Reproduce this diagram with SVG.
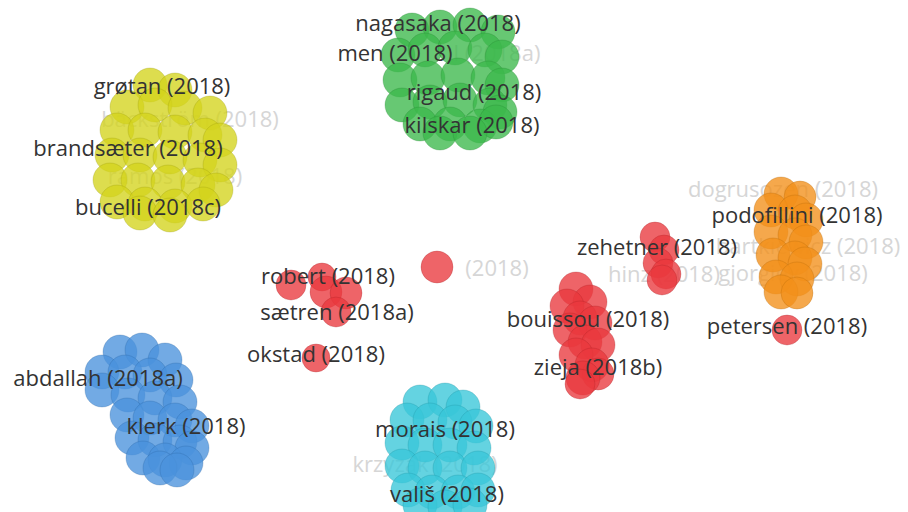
<svg xmlns="http://www.w3.org/2000/svg" width="908" height="512" viewBox="0 0 908 512">
<style>
text{font-family:"Open Sans","Noto Sans","DejaVu Sans",sans-serif;font-size:22px;text-anchor:middle}
.d{fill:#333}
.f{fill:#d6d6d6}
circle{fill-opacity:0.78;stroke-opacity:0.25;stroke-width:1}
.g circle{fill:#3cb84b;stroke:#1f7a2a}
.y circle{fill:#d4d41c;stroke:#8f8f08}
.b circle{fill:#4a92dc;stroke:#245a99}
.c circle{fill:#38c7d9;stroke:#178896}
.r circle{fill:#e9383e;stroke:#9e1a1e}
.o circle{fill:#f29019;stroke:#a85e05}
</style>
<rect width="908" height="512" fill="#fff"/>
<g id="connectors"/>
<g id="faint-labels">
<text class="f" x="497" y="61">l (2018a)</text>
<text class="f" x="190" y="127">bäckström (2018)</text>
<text class="f" x="175" y="184">ramos (2018)</text>
<text class="f" x="497" y="276">(2018)</text>
<text class="f" x="783" y="197">dogrusozen (2018)</text>
<text class="f" x="808" y="254">bartkiewicz (2018)</text>
<text class="f" x="664" y="282">hinz (2018)</text>
<text class="f" x="793" y="281">gjorgiev (2018)</text>
<text class="f" x="425" y="472">krzyzak (2018)</text>
</g>
<g id="cluster-green" class="g">
<circle cx="412" cy="30" r="17"/><circle cx="440" cy="27" r="17"/><circle cx="470" cy="25" r="17"/><circle cx="498" cy="32" r="17"/>
<circle cx="398" cy="55" r="17"/><circle cx="425" cy="50" r="17"/><circle cx="455" cy="48" r="17"/><circle cx="485" cy="50" r="17"/><circle cx="502" cy="57" r="17"/>
<circle cx="400" cy="80" r="17"/><circle cx="428" cy="78" r="17"/><circle cx="458" cy="75" r="17"/><circle cx="488" cy="78" r="17"/><circle cx="502" cy="85" r="17"/>
<circle cx="402" cy="105" r="17"/><circle cx="430" cy="102" r="17"/><circle cx="460" cy="100" r="17"/><circle cx="490" cy="105" r="17"/><circle cx="500" cy="112" r="17"/>
<circle cx="420" cy="124" r="17"/><circle cx="450" cy="124" r="17"/><circle cx="480" cy="126" r="17"/><circle cx="496" cy="122" r="17"/>
<circle cx="440" cy="133" r="17"/><circle cx="470" cy="133" r="17"/>
</g>
<g id="cluster-yellow" class="y">
<circle cx="150" cy="85" r="17"/><circle cx="175" cy="90" r="17"/>
<circle cx="127" cy="107" r="17"/><circle cx="155" cy="105" r="17"/><circle cx="185" cy="108" r="17"/><circle cx="210" cy="113" r="17"/>
<circle cx="117" cy="130" r="17"/><circle cx="145" cy="130" r="17"/><circle cx="175" cy="132" r="17"/><circle cx="205" cy="135" r="17"/><circle cx="220" cy="140" r="17"/>
<circle cx="112" cy="155" r="17"/><circle cx="140" cy="155" r="17"/><circle cx="170" cy="157" r="17"/><circle cx="200" cy="160" r="17"/><circle cx="220" cy="165" r="17"/>
<circle cx="110" cy="180" r="17"/><circle cx="138" cy="180" r="17"/><circle cx="168" cy="182" r="17"/><circle cx="198" cy="185" r="17"/><circle cx="216" cy="190" r="17"/>
<circle cx="117" cy="202" r="17"/><circle cx="145" cy="204" r="17"/><circle cx="175" cy="206" r="17"/><circle cx="203" cy="204" r="17"/>
<circle cx="140" cy="213" r="17"/><circle cx="170" cy="215" r="17"/>
</g>
<g id="cluster-blue" class="b">
<circle cx="120" cy="352" r="17"/><circle cx="142" cy="350" r="17"/><circle cx="165" cy="360" r="17"/>
<circle cx="102" cy="372" r="17"/><circle cx="125" cy="372" r="17"/><circle cx="150" cy="375" r="17"/><circle cx="176" cy="380" r="17"/>
<circle cx="102" cy="390" r="17"/><circle cx="128" cy="395" r="17"/><circle cx="155" cy="398" r="17"/><circle cx="180" cy="402" r="17"/>
<circle cx="127" cy="415" r="17"/><circle cx="150" cy="418" r="17"/><circle cx="175" cy="420" r="17"/><circle cx="192" cy="426" r="17"/>
<circle cx="132" cy="438" r="17"/><circle cx="155" cy="440" r="17"/><circle cx="180" cy="442" r="17"/><circle cx="192" cy="448" r="17"/>
<circle cx="143" cy="458" r="17"/><circle cx="165" cy="460" r="17"/><circle cx="186" cy="463" r="17"/>
<circle cx="160" cy="468" r="17"/><circle cx="177" cy="470" r="17"/>
</g>
<g id="cluster-cyan" class="c">
<circle cx="420" cy="402" r="17"/><circle cx="445" cy="400" r="17"/><circle cx="463" cy="407" r="17"/>
<circle cx="407" cy="420" r="17"/><circle cx="430" cy="420" r="17"/><circle cx="455" cy="422" r="17"/><circle cx="476" cy="426" r="17"/>
<circle cx="402" cy="443" r="17"/><circle cx="425" cy="445" r="17"/><circle cx="450" cy="445" r="17"/><circle cx="474" cy="448" r="17"/>
<circle cx="402" cy="466" r="17"/><circle cx="425" cy="468" r="17"/><circle cx="450" cy="468" r="17"/><circle cx="478" cy="468" r="17"/>
<circle cx="408" cy="490" r="17"/><circle cx="432" cy="492" r="17"/><circle cx="458" cy="492" r="17"/><circle cx="478" cy="490" r="17"/>
<circle cx="420" cy="505" r="17"/><circle cx="445" cy="507" r="17"/><circle cx="470" cy="505" r="17"/>
</g>
<g id="cluster-red" class="r">
<circle cx="291" cy="285" r="15"/><circle cx="322" cy="277" r="14"/><circle cx="326" cy="292" r="16"/><circle cx="346" cy="293" r="16"/><circle cx="336" cy="312" r="15"/>
<circle cx="316" cy="358" r="14"/>
<circle cx="437" cy="267" r="16"/>
<circle cx="655" cy="237" r="15"/><circle cx="664" cy="250" r="15"/><circle cx="658" cy="263" r="15"/><circle cx="666" cy="274" r="15"/><circle cx="662" cy="280" r="15"/>
<circle cx="576" cy="289" r="17"/><circle cx="590" cy="302" r="17"/><circle cx="567" cy="306" r="17"/><circle cx="580" cy="318" r="17"/><circle cx="595" cy="323" r="17"/>
<circle cx="570" cy="330" r="17"/><circle cx="585" cy="342" r="17"/><circle cx="598" cy="345" r="17"/><circle cx="576" cy="355" r="17"/><circle cx="592" cy="365" r="17"/>
<circle cx="598" cy="374" r="16"/><circle cx="583" cy="378" r="17"/><circle cx="580" cy="384" r="15"/>
<circle cx="787" cy="330" r="15"/>
</g>
<g id="cluster-orange" class="o">
<circle cx="781" cy="194" r="17"/><circle cx="800" cy="197" r="16"/>
<circle cx="771" cy="210" r="17"/><circle cx="795" cy="212" r="17"/><circle cx="806" cy="220" r="17"/>
<circle cx="771" cy="232" r="17"/><circle cx="795" cy="235" r="17"/><circle cx="806" cy="242" r="17"/>
<circle cx="773" cy="255" r="17"/><circle cx="795" cy="258" r="17"/><circle cx="805" cy="264" r="17"/>
<circle cx="776" cy="277" r="17"/><circle cx="797" cy="279" r="17"/>
<circle cx="781" cy="292" r="17"/><circle cx="797" cy="293" r="16"/>
</g>
<g id="labels">
<g id="n-nagasaka"><text class="d" x="438" y="31">nagasaka (2018)</text></g>
<g id="n-men"><text class="d" x="395" y="61">men (2018)</text></g>
<g id="n-rigaud"><text class="d" x="474" y="100">rigaud (2018)</text></g>
<g id="n-kilskar"><text class="d" x="472" y="133">kilskar (2018)</text></g>
<g id="n-grotan"><text class="d" x="162" y="94">grøtan (2018)</text></g>
<g id="n-brandsaeter"><text class="d" x="128" y="156">brandsæter (2018)</text></g>
<g id="n-bucelli"><text class="d" x="148" y="215">bucelli (2018c)</text></g>
<g id="n-robert"><text class="d" x="328" y="284">robert (2018)</text></g>
<g id="n-saetren"><text class="d" x="337" y="320">sætren (2018a)</text></g>
<g id="n-okstad"><text class="d" x="316" y="362">okstad (2018)</text></g>
<g id="n-zehetner"><text class="d" x="657" y="255">zehetner (2018)</text></g>
<g id="n-bouissou"><text class="d" x="588" y="327">bouissou (2018)</text></g>
<g id="n-zieja"><text class="d" x="598" y="375">zieja (2018b)</text></g>
<g id="n-podofillini"><text class="d" x="797" y="223">podofillini (2018)</text></g>
<g id="n-petersen"><text class="d" x="787" y="334">petersen (2018)</text></g>
<g id="n-abdallah"><text class="d" x="98" y="386">abdallah (2018a)</text></g>
<g id="n-klerk"><text class="d" x="186" y="434">klerk (2018)</text></g>
<g id="n-morais"><text class="d" x="445" y="437">morais (2018)</text></g>
<g id="n-valis"><text class="d" x="447" y="502">vališ (2018)</text></g>
</g>
</svg>
